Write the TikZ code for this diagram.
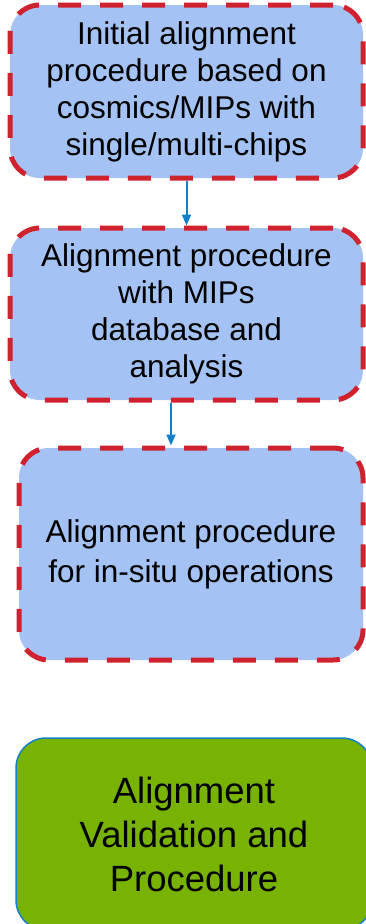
\documentclass[tikz,border=0pt]{standalone}
\usepackage{fontspec}
\setmainfont{Liberation Sans}
\usepackage{tikz}
\usetikzlibrary{shapes}
\usetikzlibrary{arrows.meta}
\usetikzlibrary{positioning}
\usetikzlibrary{calc}
\definecolor{boxblue}{HTML}{A4C2F4}
\definecolor{dashred}{HTML}{D0212F}
\definecolor{boxgreen}{HTML}{77B300}
\definecolor{linkblue}{HTML}{1580C8}
\tikzstyle{etape}=[
        rectangle,
        draw=dashred,
        line width=5pt,
        dash pattern=on 23pt off 19pt,
        rounded corners=30pt,
        fill=boxblue,
        align=center,
        text=black,
        font=\fontsize{31.5}{37}\selectfont
]
\tikzstyle{valid}=[
        rectangle,
        draw=linkblue,
        line width=1.5pt,
        rounded corners=30pt,
        fill=boxgreen,
        align=center,
        text=black,
        font=\fontsize{36.5}{44}\selectfont
]
\tikzstyle{suite}=[-{Triangle[width=9pt,length=11pt]},draw=linkblue,line width=2pt]

\begin{document}
\begin{tikzpicture}[x=1pt,y=1pt]
\clip (0,0) rectangle (366,-924);
\node[etape,minimum width=353pt,minimum height=173pt] (init) at (186.5,-91.5) {Initial alignment\\procedure based on\\cosmics/MIPs with\\single/multi-chips};
\node[etape,minimum width=353pt,minimum height=172pt] (mips) at (186.5,-314) {Alignment procedure\\with MIPs\\database and\\analysis};
\node[etape,minimum width=344pt,minimum height=212pt,font=\fontsize{31.5}{40}\selectfont] (insitu) at (191,-554) {Alignment procedure\\for in-situ operations};
\node[valid,minimum width=356pt,minimum height=192pt] (valid) at (194,-834) {Alignment\\Validation and\\Procedure};
%fleches
\draw[suite] (init) -- (mips);
\draw[suite] ([xshift=-15.5pt]mips.south) -- ([xshift=-15.5pt]mips.south |- insitu.north);
\end{tikzpicture}
\end{document}
